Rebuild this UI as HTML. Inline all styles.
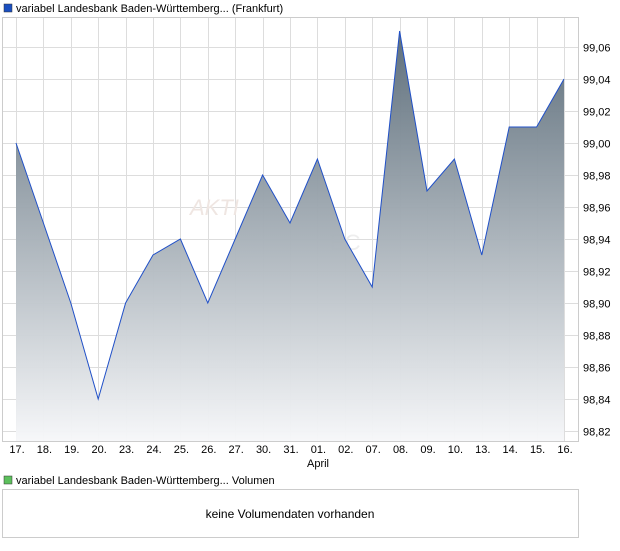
<!DOCTYPE html>
<html><head><style>
body{margin:0;background:#fff;font-family:"Liberation Sans",sans-serif;}
</style></head><body>
<svg width="620" height="546" xmlns="http://www.w3.org/2000/svg" font-family="Liberation Sans, sans-serif" font-size="11" fill="#000">
<defs><linearGradient id="g" x1="0" y1="0" x2="0" y2="1">
<stop offset="0" stop-color="#5a6b78"/><stop offset="1" stop-color="#f6f7f9"/></linearGradient></defs>
<rect x="4" y="4" width="8" height="8" fill="#1a4fc0" stroke="#333" stroke-width="0.5"/>
<text x="16" y="12">variabel Landesbank Baden-Württemberg... (Frankfurt)</text>
<rect x="2.5" y="17.5" width="576" height="424" fill="#fff" stroke="#ccc"/>
<g stroke="#ddd" stroke-width="1" id="grid"></g>
<text x="190" y="215" font-size="22" fill="#efe6e2" font-style="italic">AKTI</text>
<text x="330" y="250" font-size="22" fill="#eeeeee">EC</text>
<path id="area" fill="url(#g)" fill-opacity="0.97"/>
<polyline id="line" fill="none" stroke="#2050c8" stroke-width="1"/>
<g id="labels" font-size="11"></g>
<text x="307" y="467">April</text>
<rect x="4" y="476" width="8" height="8" fill="#5cc05c" stroke="#333" stroke-width="0.5"/>
<text x="16" y="484">variabel Landesbank Baden-Württemberg... Volumen</text>
<rect x="2.5" y="489.5" width="576" height="48" fill="#fff" stroke="#ccc"/>
<text x="290" y="518" text-anchor="middle" font-size="12">keine Volumendaten vorhanden</text>
</svg>
<script>
var v=[99.00,98.95,98.90,98.84,98.90,98.93,98.94,98.90,98.94,98.98,98.95,98.99,98.94,98.91,99.07,98.97,98.99,98.93,99.01,99.01,99.04];
var d=["17.","18.","19.","20.","23.","24.","25.","26.","27.","30.","31.","01.","02.","07.","08.","09.","10.","13.","14.","15.","16."];
var ns="http://www.w3.org/2000/svg";
function X(i){return 16+i*27.4;}function Y(x){return 47+(99.06-x)*1600;}
var g=document.getElementById("grid"),lb=document.getElementById("labels");
function el(t,a,p,tx){var e=document.createElementNS(ns,t);for(var k in a)e.setAttribute(k,a[k]);if(tx)e.textContent=tx;p.appendChild(e);}
for(var i=0;i<21;i++){var x=Math.round(X(i))+0.5;el("line",{x1:x,y1:18,x2:x,y2:441},g);el("text",{x:X(i)+1,y:453,"text-anchor":"middle"},lb,d[i]);}
for(var k=0;k<13;k++){var val=99.06-k*0.02,y=Math.round(Y(val))+0.5;el("line",{x1:3,y1:y,x2:578,y2:y},g);el("text",{x:583,y:y+4},lb,val.toFixed(2).replace(".",","));}
var pts=v.map(function(a,i){return X(i)+","+Y(a);});
document.getElementById("line").setAttribute("points",pts.join(" "));
document.getElementById("area").setAttribute("d","M"+X(0)+",441 L"+pts.join(" L")+" L"+X(20)+",441Z");
</script>
</body></html>
